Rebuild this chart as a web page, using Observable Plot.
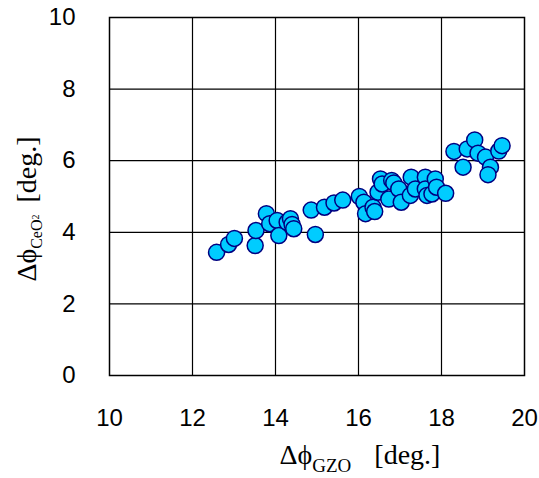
<!DOCTYPE html>
<html>
<head>
<meta charset="utf-8">
<script src="https://cdn.jsdelivr.net/npm/d3@7"></script>
<script src="https://cdn.jsdelivr.net/npm/@observablehq/plot@0.6"></script>
<style>
  html, body { margin: 0; padding: 0; background: #fff; }
</style>
</head>
<body>
<div id="chart"></div>
<script>
const gzo = [12.58,12.87,13.01,13.51,13.53,13.78,13.86,14.04,14.08,14.28,14.36,14.40,14.44,14.86,14.96,15.18,15.41,15.62,16.02,16.13,16.17,16.35,16.39,16.47,16.53,16.57,16.73,16.80,16.85,16.97,17.03,17.27,17.25,17.37,17.61,17.61,17.65,17.77,17.85,17.88,18.10,18.30,18.52,18.62,18.80,18.88,19.06,19.18,19.12,19.38,19.46];
const ceo2 = [3.44,3.66,3.83,3.63,4.05,4.52,4.24,4.33,3.91,4.28,4.38,4.22,4.10,4.62,3.94,4.70,4.82,4.90,5.00,4.84,4.52,4.70,4.58,5.12,5.49,5.35,4.93,5.45,5.38,5.21,4.84,5.54,5.03,5.21,5.54,5.21,5.03,5.07,5.49,5.26,5.09,6.26,5.82,6.33,6.58,6.21,6.10,5.82,5.61,6.27,6.42];
const xTicks = [10,12,14,16,18,20];
const yTicks = [0,2,4,6,8,10];
const xGrid = [12,14,16,18];
const yGrid = [2,4,6,8];

const data = gzo.map((x, i) => ({x, y: ceo2[i]}));

const chart = Plot.plot({
  width: 539,
  height: 478,
  marginLeft: 109,
  marginRight: 15,
  marginTop: 17,
  marginBottom: 103,
  style: {fontFamily: "'Liberation Sans', Arial, sans-serif", fontSize: "24px", background: "#fff", color: "#000"},
  x: {domain: [10, 20]},
  y: {domain: [0, 10]},
  marks: [
    Plot.ruleX(xGrid, {stroke: "#000", strokeWidth: 1.2}),
    Plot.ruleY(yGrid, {stroke: "#000", strokeWidth: 1.2}),
    Plot.frame({stroke: "#000", strokeWidth: 1.5}),
    Plot.axisX({ticks: xTicks, tickSize: 0, tickPadding: 33, label: null, fontSize: 24}),
    Plot.axisY({ticks: yTicks, tickSize: 0, tickPadding: 34, label: null, fontSize: 24}),
    Plot.dot(data, {x: "x", y: "y", r: 8, fill: "#00CCFF", stroke: "#000080", strokeWidth: 1.5})
  ]
});

document.getElementById("chart").appendChild(chart);

const svg = d3.select(chart);
const serif = "'Liberation Serif', 'Times New Roman', serif";

// x-axis title
const xt = svg.append("text")
  .attr("x", 360).attr("y", 464)
  .attr("text-anchor", "middle")
  .attr("font-family", serif)
  .attr("font-size", 28)
  .attr("fill", "#000");
xt.append("tspan").text("Δϕ");
xt.append("tspan").attr("font-size", 19).attr("dy", 8).text("GZO");
xt.append("tspan").attr("dy", -8).attr("dx", 23).text("[deg.]");

// y-axis title
const yt = svg.append("text")
  .attr("transform", "translate(36,209) rotate(-90)")
  .attr("text-anchor", "middle")
  .attr("font-family", serif)
  .attr("font-size", 28)
  .attr("fill", "#000");
yt.append("tspan").text("Δϕ");
yt.append("tspan").attr("font-size", 16).attr("dy", 6).text("CeO");
yt.append("tspan").attr("font-size", 10).attr("dy", -3).text("2");
yt.append("tspan").attr("dy", -3).attr("dx", 12).text("[deg.]");
</script>
</body>
</html>
